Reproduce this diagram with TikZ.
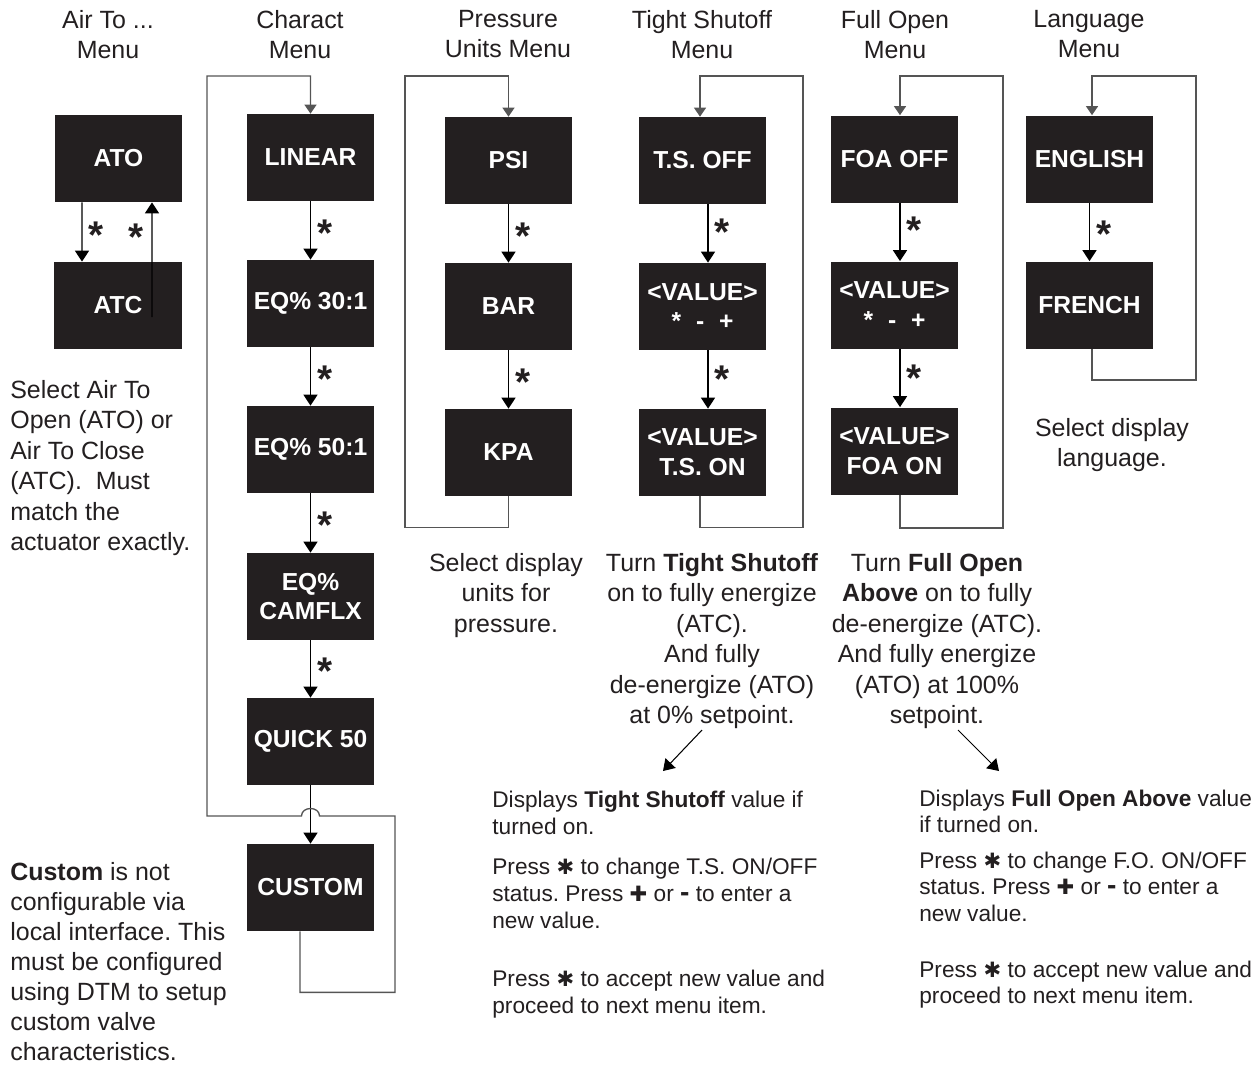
\documentclass[tikz,border=0pt]{standalone}
\usepackage{fontspec}
\setmainfont{Liberation Sans}
\newfontfamily\symfont{DejaVu Sans}
\usetikzlibrary{arrows.meta,calc}
\definecolor{boxfill}{RGB}{35,31,32}
\definecolor{loopgray}{RGB}{85,85,85}
\newcommand{\keystar}{{\symfont\fontsize{12}{12}\selectfont ✱}}
\newcommand{\keyplus}{{\symfont\fontsize{12}{12}\selectfont ✚}}
\newcommand{\keyminus}{{\fontsize{16}{12}\selectfont\bfseries -}}
\frenchspacing

\begin{document}
\begin{tikzpicture}[x=0.2mm, y=-0.2mm,
    menubox/.style={fill=boxfill, text=white, minimum width=2.54cm, minimum height=1.74cm,
        inner sep=0pt, align=center, font=\fontsize{14}{17}\selectfont\bfseries},
    arr/.style={-{Triangle[length=2.2mm,width=2.8mm]}, line width=0.85pt, black},
    loopline/.style={-{Triangle[length=1.8mm,width=2.4mm]}, line width=0.75pt, loopgray},
    starlbl/.style={inner sep=0pt, yshift=-4pt, text=boxfill, font=\fontsize{22}{22}\selectfont\bfseries},
    starR/.style={starlbl, anchor=west, xshift=1.2mm},
    starL/.style={starlbl, anchor=east, xshift=-1.6mm},
    head/.style={anchor=north, inner sep=0pt, align=center, text=boxfill, font=\fontsize{14.2}{17}\selectfont},
    note/.style={inner sep=0pt, text=boxfill, font=\fontsize{14.2}{17.3}\selectfont},
    small/.style={anchor=north west, inner sep=0pt, align=left, text=boxfill, font=\fontsize{12.9}{15.3}\selectfont}]
    \useasboundingbox (0,0) rectangle (1260,1066);

    \node[head] (hair) at (108,10) {Air To ...\\Menu};
    \node[head] (hchar) at (300,10) {Charact\\Menu};
    \node[head] (hpress) at (508,10) {Pressure\\Units Menu};
    \node[head] (htight) at (702,10) {Tight Shutoff\\Menu};
    \node[head] (hfull) at (895,10) {Full Open\\Menu};
    \node[head] (hlang) at (1089,10) {Language\\Menu};

    \node[menubox] (ato) at (118.5,158.5) {ATO};
    \node[menubox] (atc) at (118,305.5) {ATC};

    \node[menubox] (lin) at (310.5,157.5) {LINEAR};
    \node[menubox] (eqa) at (310.5,303.5) {EQ\% 30:1};
    \node[menubox] (eqb) at (310.5,449.5) {EQ\% 50:1};
    \node[menubox] (eqc) at (310.5,596.5) {EQ\%\\CAMFLX};
    \node[menubox] (quick) at (310.5,741.5) {QUICK 50};
    \node[menubox] (custom) at (310.5,887.5) {CUSTOM};

    \node[menubox] (psi) at (508.5,160.5) {PSI};
    \node[menubox] (bar) at (508.5,306.5) {BAR};
    \node[menubox] (kpa) at (508.5,452.5) {KPA};

    \node[menubox] (tsoff) at (702.5,160.5) {T.S. OFF};
    \node[menubox] (tsval) at (702.5,306.5) {<VALUE>\\*\hspace{8.5pt}-\hspace{8.5pt}+};
    \node[menubox] (tson) at (702.5,452.5) {<VALUE>\\T.S. ON};

    \node[menubox] (foaoff) at (894.5,159) {FOA OFF};
    \node[menubox] (foaval) at (894.5,305) {<VALUE>\\*\hspace{8.5pt}-\hspace{8.5pt}+};
    \node[menubox] (foaon) at (894.5,451) {<VALUE>\\FOA ON};

    \node[menubox] (english) at (1089.5,159) {ENGLISH};
    \node[menubox] (french) at (1089.5,305) {FRENCH};

    \draw[arr] ([xshift=-7.3mm]ato.south) -- ([xshift=-7.2mm]atc.north) node[starR, pos=0.43] {*};
    \draw[arr] ([xshift=6.8mm,yshift=-2.3mm]atc.center) -- ([xshift=6.7mm]ato.south) node[starL, pos=0.76] {*};

    \draw[arr] (lin) -- (eqa) node[starR, pos=0.42] {*};
    \draw[arr] (eqa) -- (eqb) node[starR, pos=0.42] {*};
    \draw[arr] (eqb) -- (eqc) node[starR, pos=0.42] {*};
    \draw[arr] (eqc) -- (quick) node[starR, pos=0.42] {*};
    \draw[arr] (quick) -- (custom);

    \draw[arr] (psi) -- (bar) node[starR, pos=0.42] {*};
    \draw[arr] (bar) -- (kpa) node[starR, pos=0.42] {*};

    \draw[arr] ([xshift=1.1mm]tsoff.south) -- ([xshift=1.1mm]tsval.north) node[starR, pos=0.35] {*};
    \draw[arr] ([xshift=1.1mm]tsval.south) -- ([xshift=1.1mm]tson.north) node[starR, pos=0.38] {*};

    \draw[arr] ([xshift=1.1mm]foaoff.south) -- ([xshift=1.1mm]foaval.north) node[starR, pos=0.35] {*};
    \draw[arr] ([xshift=1.1mm]foaval.south) -- ([xshift=1.1mm]foaon.north) node[starR, pos=0.38] {*};

    \draw[arr] (english) -- (french) node[starR, pos=0.42] {*};

    \coordinate (chtop) at (207,76);
    \coordinate (chmid) at (395,816);
    \draw[loopline] ([xshift=-2.1mm]custom.south) -- ++(0,61) -| (chmid)
        -- ($(chmid -| custom.north)+(9,0)$) .. controls +(0,-10) and +(0,-10) .. ($(chmid -| custom.north)+(-9,0)$)
        -| (chtop) -| (lin.north);

    \coordinate (prtop) at (405,76);
    \draw[loopline] (kpa.south) -- ++(0,31) -| (prtop) -| (psi.north);

    \coordinate (tstop) at (803,76);
    \draw[loopline] ([xshift=-0.5mm]tson.south) -- ++(0,31) -| (tstop) -| ([xshift=-0.5mm]tsoff.north);

    \coordinate (foatop) at (1003,76);
    \draw[loopline] ([xshift=1.1mm]foaon.south) -- ++(0,33) -| (foatop) -| ([xshift=1.1mm]foaoff.north);

    \coordinate (lgtop) at (1196,76);
    \draw[loopline] ([xshift=0.5mm]french.south) -- ++(0,31) -| (lgtop) -| ([xshift=0.5mm]english.north);

    \node[note, anchor=north west, align=left] (airnote) at (10,380)
        {Select Air To\\Open (ATO) or\\Air To Close\\(ATC).\ \ Must\\match the\\actuator exactly.};
    \node[note, anchor=north west, align=left, font=\fontsize{14.2}{17.1}\selectfont] (customnote) at (10,862)
        {\textbf{Custom} is not\\configurable via\\local interface. This\\must be configured\\using DTM to setup\\custom valve\\characteristics.};
    \node[note, anchor=north, align=center] (pressnote) at (506,553)
        {Select display\\units for\\pressure.};
    \node[note, anchor=north, align=center] (tsnote) at (712,553)
        {Turn \textbf{Tight Shutoff}\\on to fully energize\\(ATC).\\And fully\\de-energize (ATO)\\at 0\% setpoint.};
    \node[note, anchor=north, align=center] (foanote) at (937,553)
        {Turn \textbf{Full Open}\\\textbf{Above} on to fully\\de-energize (ATC).\\And fully energize\\(ATO) at 100\%\\setpoint.};
    \node[note, anchor=north, align=center] (langnote) at (1112,418)
        {Select display\\language.};

    \node[small] (tshelp) at (492,791)
        {Displays \textbf{Tight Shutoff} value if\\turned on.\\[7.4pt]
         Press \keystar{} to change T.S. ON/OFF\\status. Press \keyplus{} or \keyminus{} to enter a\\new value.\\[18pt]
         Press \keystar{} to accept new value and\\proceed to next menu item.};
    \node[small, font=\fontsize{12.9}{14.9}\selectfont] (foahelp) at (919,790)
        {Displays \textbf{Full Open Above} value\\if turned on.\\[5.4pt]
         Press \keystar{} to change F.O. ON/OFF\\status. Press \keyplus{} or \keyminus{} to enter a\\new value.\\[17.3pt]
         Press \keystar{} to accept new value and\\proceed to next menu item.};

    \coordinate (tsfrom) at (702,730);
    \coordinate (tsto) at (663,771);
    \draw[arr, line width=0.6pt] (tsfrom) -- (tsto);
    \coordinate (foafrom) at (958,730);
    \coordinate (foato) at (999,771);
    \draw[arr, line width=0.6pt] (foafrom) -- (foato);
\end{tikzpicture}
\end{document}
